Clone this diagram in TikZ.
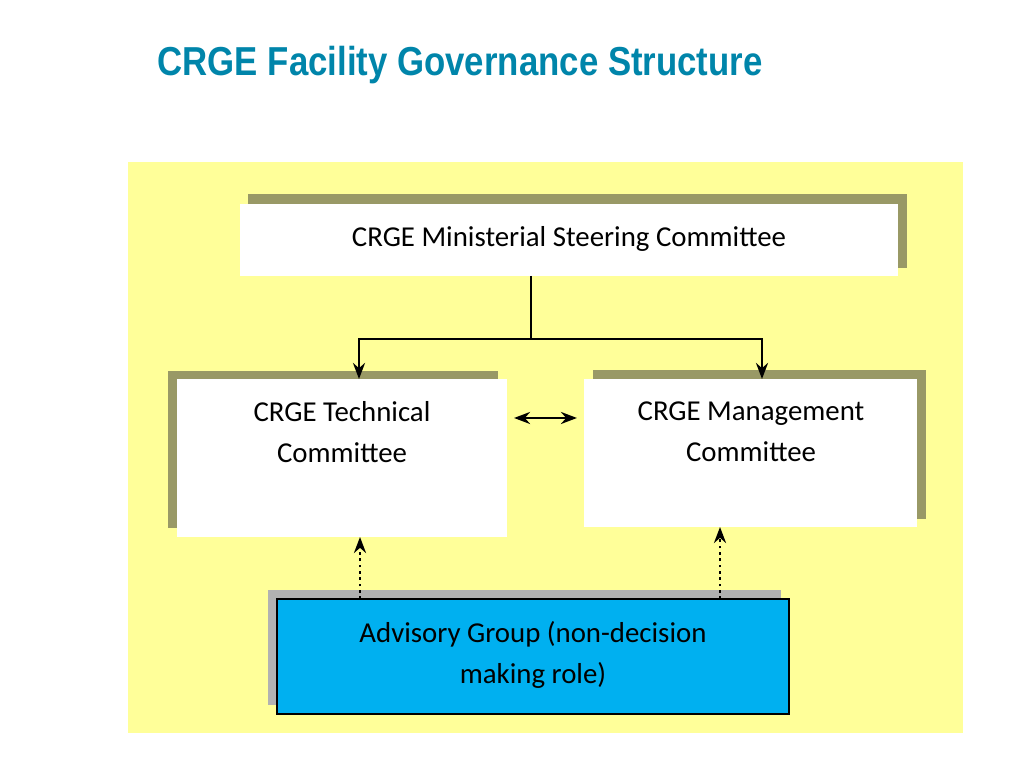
\documentclass[tikz,border=0pt]{standalone}
\usepackage{fontspec}
\setmainfont{Carlito}
\newfontfamily\titlefont{Liberation Sans}
\usetikzlibrary{calc,positioning,arrows.meta}
\definecolor{bgyellow}{RGB}{255,255,153}
\definecolor{shadowol}{RGB}{153,153,102}
\definecolor{titleblue}{RGB}{0,133,170}
\definecolor{advblue}{RGB}{0,176,240}
\tikzset{
  px/.style={x=0.01cm,y=-0.01cm},
  boxtext/.style={align=center,font=\fontsize{8.2}{11.8}\selectfont,anchor=north},
  link/.style={thick,-{Stealth[length=1.6mm]}},
}
\begin{document}
\begin{tikzpicture}[px]
  \useasboundingbox (0,0) rectangle (1024,768);
  \node[font=\titlefont\bfseries\fontsize{11.5}{13}\selectfont,text=titleblue,
    anchor=west,xscale=0.86,transform shape] (title) at (147,65) {CRGE Facility Governance Structure};

  \fill[bgyellow] (128,162) rectangle (963,733);

  % top box
  \fill[shadowol] (248,194) rectangle (907,268);
  \fill[white] (240,204) rectangle (898,276);
  \coordinate (msc_s) at (531,276);
  \node[boxtext] (msc) at (569,214) {CRGE Ministerial Steering Committee};

  % technical committee
  \fill[shadowol] (168,371) rectangle (498,528);
  \fill[white] (177,379) rectangle (507,537);
  \coordinate (tc_n) at (359,379);
  \coordinate (tc_e) at (507,418);
  \coordinate (tc_s) at (360,537);
  \node[boxtext] (tc) at (342,389) {CRGE Technical\\Committee};

  % management committee
  \fill[shadowol] (593,370) rectangle (926,519);
  \fill[white] (584,379) rectangle (917,527);
  \coordinate (mc_n) at (762,379);
  \coordinate (mc_w) at (584,418);
  \coordinate (mc_s) at (720,527);
  \node[boxtext] (mc) at (751,389) {CRGE Management\\Committee};

  % advisory group
  \fill[gray!60] (268,590) rectangle (781,705);
  \draw[fill=advblue] (277,599) rectangle (789,714);
  \coordinate (ag_l) at (360,599);
  \coordinate (ag_r) at (720,599);
  \node[boxtext] (ag) at (533,609) {Advisory Group (non-decision\\making role)};

  % connectors
  \coordinate (split) at (531,339);
  \draw[thick] (msc_s) -- (split);
  \draw[link] (split) -| (tc_n);
  \draw[link] (split) -| (mc_n);
  \draw[thick,{Stealth[length=1.6mm]}-{Stealth[length=1.6mm]},shorten <=2pt,shorten >=2pt] (tc_e) -- (mc_w);
  \draw[link,densely dotted] (ag_l) -- (tc_s);
  \draw[link,densely dotted] (ag_r) -- (mc_s);
\end{tikzpicture}
\end{document}
